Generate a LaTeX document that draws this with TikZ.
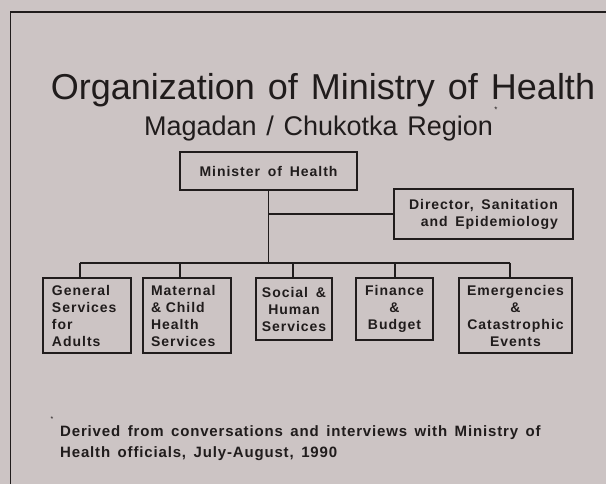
\documentclass[tikz,border=0pt]{standalone}
\usepackage{fontspec}
\setmainfont{Liberation Sans}
\newfontfamily\titlefnt{Liberation Sans}[WordSpace=1.3]
\newfontfamily\boxfnt{Liberation Sans}[LetterSpace=7,WordSpace=1.6]
\newfontfamily\notefnt{Liberation Sans}[LetterSpace=5.6,WordSpace=1.5]
\definecolor{bg}{RGB}{204,196,196}
\definecolor{ink}{RGB}{32,28,28}
\begin{document}
\begin{tikzpicture}[x=1pt,y=-1pt,
  box/.style={draw=ink, line width=1.1pt, inner sep=0pt, text=ink,
    font=\boxfnt\bfseries\fontsize{14}{17}\selectfont},
  link/.style={draw=ink, line width=1.4pt},
  lbl/.style={text=ink, inner sep=0pt}]
\useasboundingbox (0,0) rectangle (606,484);
\fill[bg] (0,0) rectangle (606,484);
% frame
\draw[ink, line width=1.5pt] (10.5,484) -- (10.5,12) -- (606,12);
% titles
\node[lbl, anchor=base, font=\titlefnt\fontsize{36}{40}\selectfont] (title) at (323,100) {Organization of Ministry of Health};
\node[lbl, anchor=base, font=\titlefnt\fontsize{27}{31}\selectfont] (sub) at (318.5,136) {Magadan / Chukotka Region};
\node[lbl, font=\fontsize{8}{8}\selectfont] (ast1) at (496,110) {*};
% boxes
\node[box, minimum width=177pt, minimum height=38pt, align=center] (min) at (268.5,171) {Minister of Health};
\node[box, minimum width=179pt, minimum height=50pt, align=right] (dir) at (483.5,214) {Director, Sanitation\\and Epidemiology};
\node[box, minimum width=88pt, minimum height=75pt, text width=70pt, inner xsep=9pt, align=left] (b1) at (87,315.5) {General\\Services\\for\\Adults};
\node[box, minimum width=88pt, minimum height=75pt, text width=72pt, inner xsep=8pt, align=left] (b2) at (187,315.5) {Maternal\\\& Child\\Health\\Services};
\node[box, minimum width=76pt, minimum height=62pt, align=center] (b3) at (294,309) {Social \&\\Human\\Services};
\node[box, minimum width=77pt, minimum height=62pt, align=center] (b4) at (394.5,309) {Finance\\\&\\Budget};
\node[box, minimum width=113pt, minimum height=75pt, align=center] (b5) at (515.5,315.5) {Emergencies\\\&\\Catastrophic\\Events};
% connectors
\coordinate (bl) at (80,263);
\coordinate (br) at (510,263);
\coordinate (jd) at (min.south |- dir.west);
\draw[link] (min.south) -- (min.south |- bl);
\draw[link] (jd) -- (dir.west);
\draw[link] (bl) -- (br);
\draw[link] (bl) -- (bl |- b1.north);
\draw[link] (180,263) -- (b2.north -| 180,0);
\draw[link] (293,263) -- (b3.north -| 293,0);
\draw[link] (395,263) -- (b4.north -| 395,0);
\draw[link] (br) -- (br |- b5.north);
% footnote
\node[lbl, font=\fontsize{7}{7}\selectfont] (ast2) at (52,419) {*};
\node[lbl, anchor=base west, align=left, font=\notefnt\bfseries\fontsize{15}{20.6}\selectfont] (note) at (60,457) {Derived from conversations and interviews with Ministry of\\Health officials, July-August, 1990};
\end{tikzpicture}
\end{document}
